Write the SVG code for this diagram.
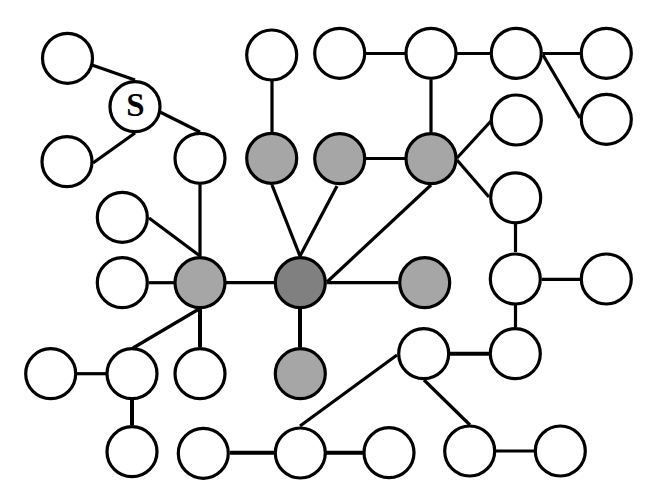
<svg xmlns="http://www.w3.org/2000/svg" width="646" height="502" viewBox="0 0 646 502">
<style>
.n{fill:#fff;stroke:#000;stroke-width:3.2}
.g{fill:#a6a6a6;stroke:#000;stroke-width:3.2}
.d{fill:#808080;stroke:#000;stroke-width:3.2}
.e line{stroke:#000;stroke-width:3.2;stroke-linecap:butt}
.t{font-family:"Liberation Serif","Times New Roman",serif;font-weight:bold;font-size:33px;text-anchor:middle}
</style>
<rect width="646" height="502" fill="#fff"/>
<g id="connectors" class="e">
<line x1="92" y1="65" x2="135" y2="80"/>
<line x1="160" y1="112" x2="200" y2="132"/>
<line x1="135" y1="133" x2="93" y2="163"/>
<line x1="272" y1="81" x2="272" y2="132"/>
<line x1="366" y1="53.5" x2="405" y2="53.5"/>
<line x1="457" y1="53.5" x2="490" y2="53.5"/>
<line x1="543" y1="53.5" x2="580" y2="53.5"/>
<line x1="543" y1="55" x2="580" y2="118"/>
<line x1="431" y1="80" x2="431" y2="132"/>
<line x1="366" y1="158.5" x2="405" y2="158.5"/>
<line x1="457" y1="158" x2="491" y2="121"/>
<line x1="457" y1="160" x2="489" y2="197"/>
<line x1="200" y1="185" x2="200" y2="256"/>
<line x1="149" y1="218" x2="200" y2="256"/>
<line x1="272" y1="185" x2="300" y2="256"/>
<line x1="337" y1="186" x2="300" y2="256"/>
<line x1="431" y1="185" x2="327" y2="282"/>
<line x1="515.5" y1="224" x2="515.5" y2="252"/>
<line x1="149" y1="282.7" x2="174" y2="282.7"/>
<line x1="226" y1="282.7" x2="274" y2="282.7"/>
<line x1="327" y1="282.7" x2="398" y2="282.7"/>
<line x1="542" y1="279.3" x2="580" y2="279.3"/>
<line x1="515.5" y1="305" x2="515.5" y2="327"/>
<line x1="199" y1="309" x2="133" y2="348"/>
<line x1="200" y1="309" x2="200" y2="347" style="stroke-width:4"/>
<line x1="300" y1="309" x2="300" y2="347" style="stroke-width:4"/>
<line x1="77" y1="373.7" x2="106" y2="373.7"/>
<line x1="132" y1="400" x2="132" y2="425" style="stroke-width:4"/>
<line x1="450" y1="353.7" x2="489" y2="353.7" style="stroke-width:4"/>
<line x1="397" y1="355" x2="300" y2="426"/>
<line x1="424" y1="380" x2="470" y2="425"/>
<line x1="230" y1="452.7" x2="274" y2="452.7" style="stroke-width:4"/>
<line x1="326" y1="452.7" x2="363" y2="452.7" style="stroke-width:4"/>
<line x1="496" y1="451" x2="534" y2="451"/>
</g>
<g id="n1"><circle class="n" cx="67.5" cy="58.3" r="25"/></g>
<g id="s"><circle class="n" cx="135" cy="106.7" r="25"/><text class="t" x="135.5" y="115.5">S</text></g>
<g id="n2"><circle class="n" cx="67" cy="161.7" r="25"/></g>
<g id="n3"><circle class="n" cx="200" cy="158.3" r="25"/></g>
<g id="n4"><circle class="n" cx="271.7" cy="55" r="25"/></g>
<g id="g1"><circle class="g" cx="271.7" cy="158.3" r="25"/></g>
<g id="n5"><circle class="n" cx="122.3" cy="217.3" r="25"/></g>
<g id="n6"><circle class="n" cx="339.7" cy="53.3" r="25"/></g>
<g id="n7"><circle class="n" cx="431" cy="53.3" r="25"/></g>
<g id="n8"><circle class="n" cx="516.3" cy="53.3" r="25"/></g>
<g id="n9"><circle class="n" cx="606.3" cy="53.3" r="25"/></g>
<g id="n10"><circle class="n" cx="606.3" cy="119.3" r="25"/></g>
<g id="n11"><circle class="n" cx="516.3" cy="120" r="25"/></g>
<g id="g2"><circle class="g" cx="339.7" cy="158.7" r="25"/></g>
<g id="g3"><circle class="g" cx="431" cy="158.7" r="25"/></g>
<g id="n12"><circle class="n" cx="515.7" cy="197.8" r="25"/></g>
<g id="n13"><circle class="n" cx="122.3" cy="282.7" r="25"/></g>
<g id="g4"><circle class="g" cx="200" cy="282.7" r="25"/></g>
<g id="dk"><circle class="d" cx="300.3" cy="282.7" r="25"/></g>
<g id="g5"><circle class="g" cx="424.7" cy="282.7" r="25"/></g>
<g id="n14"><circle class="n" cx="515.3" cy="279" r="25"/></g>
<g id="n15"><circle class="n" cx="606.3" cy="279" r="25"/></g>
<g id="n16"><circle class="n" cx="50.7" cy="373.7" r="25"/></g>
<g id="n17"><circle class="n" cx="132" cy="373.7" r="25"/></g>
<g id="n18"><circle class="n" cx="200" cy="373.7" r="25"/></g>
<g id="g6"><circle class="g" cx="300.3" cy="373.7" r="25"/></g>
<g id="n19"><circle class="n" cx="423.7" cy="353.7" r="25"/></g>
<g id="n20"><circle class="n" cx="515.3" cy="353.7" r="25"/></g>
<g id="n21"><circle class="n" cx="132" cy="451.7" r="25"/></g>
<g id="n22"><circle class="n" cx="203.3" cy="453.3" r="25"/></g>
<g id="n23"><circle class="n" cx="300.3" cy="453" r="25"/></g>
<g id="n24"><circle class="n" cx="389" cy="452.7" r="25"/></g>
<g id="n25"><circle class="n" cx="469.7" cy="451" r="25"/></g>
<g id="n26"><circle class="n" cx="560.3" cy="451" r="25"/></g>
</svg>
